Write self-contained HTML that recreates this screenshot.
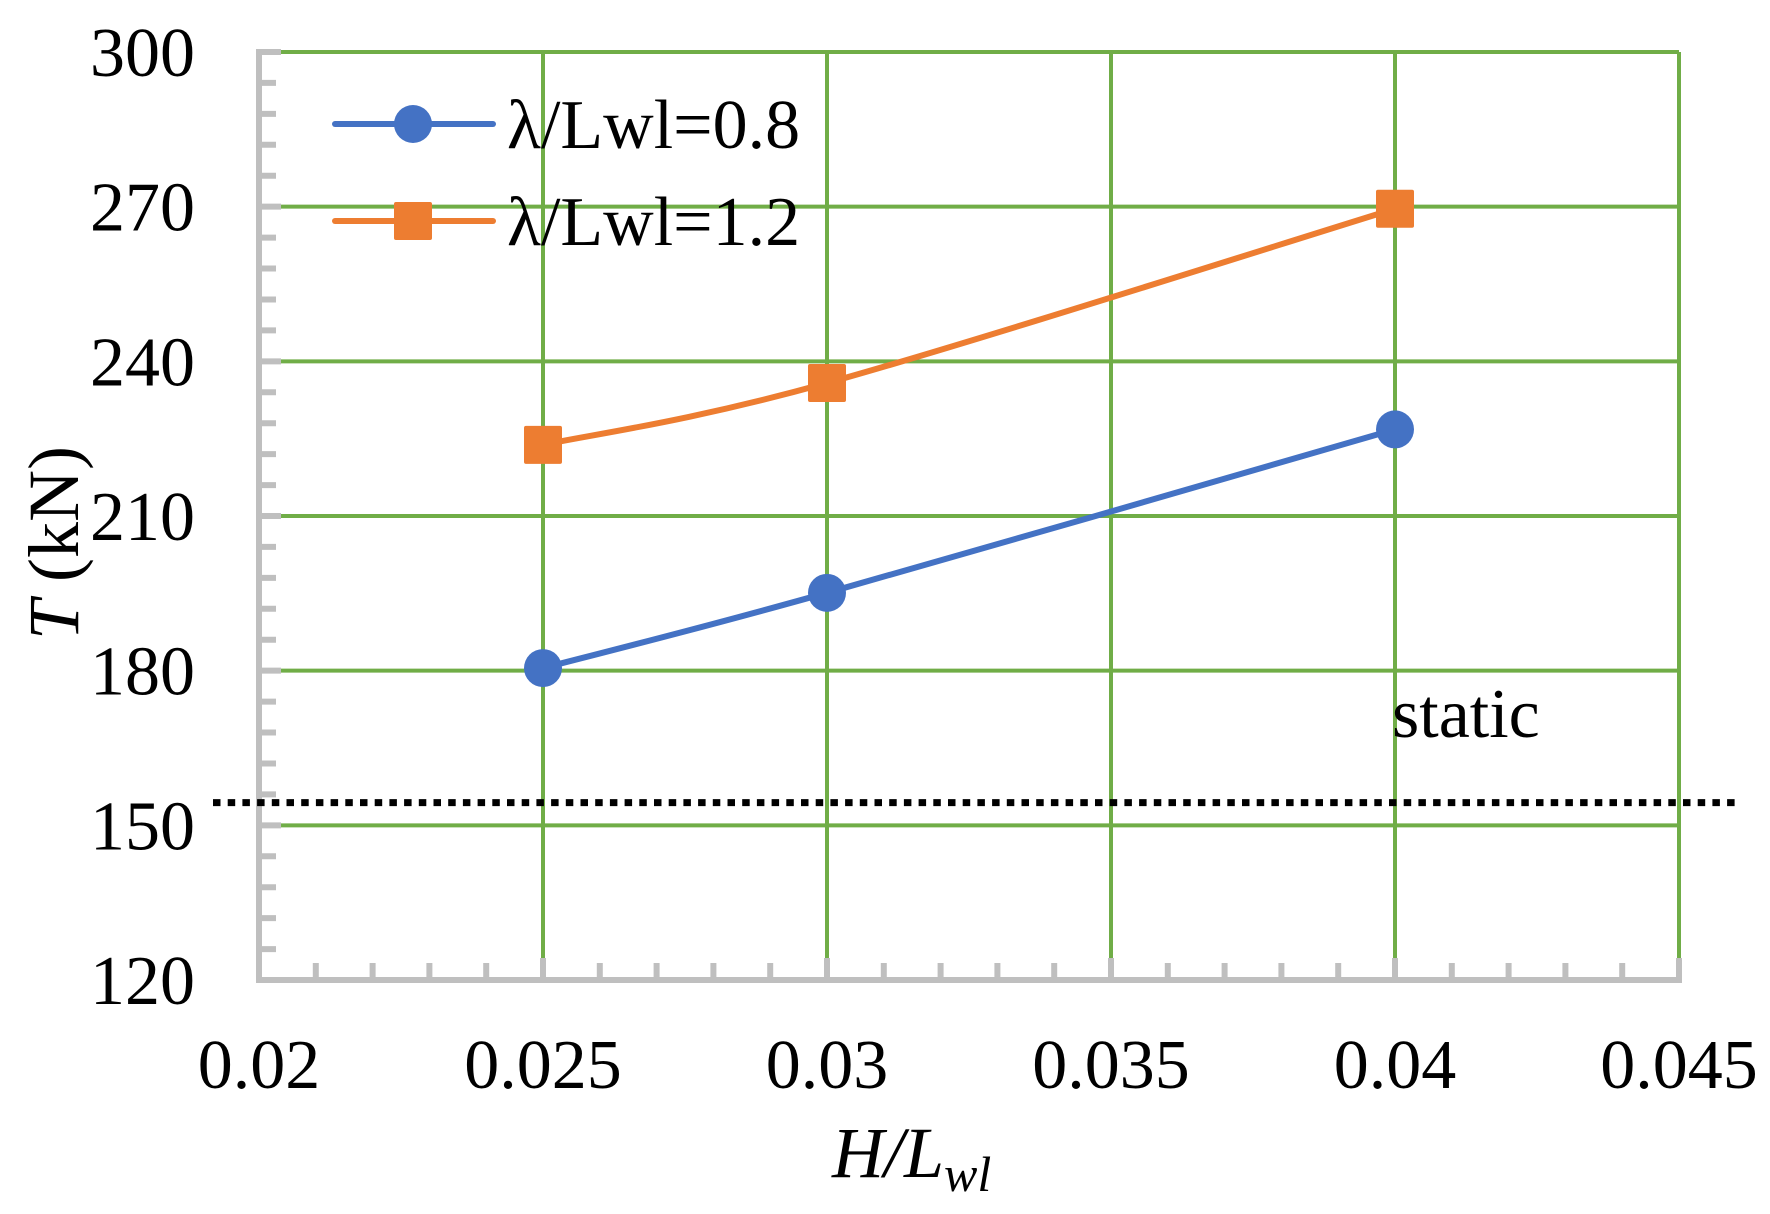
<!DOCTYPE html>
<html><head><meta charset="utf-8"><style>
html,body{margin:0;padding:0;background:#fff;}
svg{display:block;font-family:"Liberation Serif",serif;}
</style></head><body>
<svg id="chart" width="1770" height="1214" viewBox="0 0 1770 1214" xmlns="http://www.w3.org/2000/svg">
<g id="grid"></g>
<g id="axes"></g>
<g id="series"></g>
<g id="legend">
  <g>
    <line x1="335" y1="124" x2="493" y2="124" stroke="#4472c4" stroke-width="6" stroke-linecap="round"/>
    <circle cx="413" cy="124" r="19" fill="#4472c4"/>
    <text x="507" y="148" font-size="70">λ/Lwl=0.8</text>
  </g>
  <g>
    <line x1="335" y1="221" x2="493" y2="221" stroke="#ed7d31" stroke-width="6" stroke-linecap="round"/>
    <rect x="394" y="202" width="38" height="38" rx="2" fill="#ed7d31"/>
    <text x="507" y="245" font-size="70">λ/Lwl=1.2</text>
  </g>
</g>
<text x="1392" y="737" font-size="70">static</text>
<text x="832" y="1177" font-size="72" font-style="italic">H/L<tspan font-size="50" dy="14">wl</tspan></text>
<text transform="translate(78,543) rotate(-90)" text-anchor="middle" font-size="72"><tspan font-style="italic">T</tspan> (kN)</text>
</svg>
<script>
const xTicks=[0.02,0.025,0.03,0.035,0.04,0.045];
const xTickLabels=["0.02","0.025","0.03","0.035","0.04","0.045"];
const yTicks=[120,150,180,210,240,270,300];
const yTickLabels=["120","150","180","210","240","270","300"];
const categories=[0.025,0.03,0.04];
const seriesA=[180.5,195.1,226.8];
const seriesB=[223.8,235.8,269.6];
const staticValue=154.4;

const NS="http://www.w3.org/2000/svg";
const X0=259,X1=1679,Y0=980,Y1=52;
function xs(v){return X0+(v-0.02)/(0.045-0.02)*(X1-X0);}
function ys(v){return Y0-(v-120)/(300-120)*(Y0-Y1);}
function mk(tag,attrs,parent){const e=document.createElementNS(NS,tag);for(const k in attrs)e.setAttribute(k,attrs[k]);parent.appendChild(e);return e;}
const grid=document.getElementById('grid'),axes=document.getElementById('axes'),ser=document.getElementById('series');

yTicks.forEach((t,i)=>{
  if(t>120){const l=mk('line',{x1:X0,x2:X1,y1:ys(t),y2:ys(t),stroke:'#70ad47','stroke-width':4},grid);
  
  }
  const tx=mk('text',{x:195,y:ys(t)+24,'text-anchor':'end','font-size':70},axes);
  tx.textContent=yTickLabels[i];
  
  
});
xTicks.forEach((t,i)=>{
  if(t>0.02){const l=mk('line',{x1:xs(t),x2:xs(t),y1:Y1,y2:Y0,stroke:'#70ad47','stroke-width':4},grid);
  
  }
  const tx=mk('text',{x:xs(t),y:1088,'text-anchor':'middle','font-size':70},axes);
  tx.textContent=xTickLabels[i];
  
  
});
for(let v=120;v<=300;v+=6){const y=ys(v);const major=(v%30===0);
  mk('line',{x1:X0,x2:X0+(major?22:17),y1:y,y2:y,stroke:'#bfbfbf','stroke-width':6},axes);}
for(let k=0;k<=25;k++){const x=X0+k*(X1-X0)/25;const major=(k%5===0);
  mk('line',{x1:x,x2:x,y1:Y0,y2:Y0-(major?22:17),stroke:'#bfbfbf','stroke-width':6},axes);}
const ya=mk('line',{x1:X0,x2:X0,y1:Y1-3,y2:Y0+3,stroke:'#bfbfbf','stroke-width':6},axes);


const xa=mk('line',{x1:X0-3,x2:X1+3,y1:Y0,y2:Y0,stroke:'#bfbfbf','stroke-width':6},axes);



const sl=mk('line',{x1:213,x2:1736,y1:ys(staticValue),y2:ys(staticValue),stroke:'#000','stroke-width':7,'stroke-dasharray':'7.5 7.2'},ser);



function smooth(pts){let d=`M${pts[0][0]},${pts[0][1]}`;
  for(let i=0;i<pts.length-1;i++){const p0=pts[i-1]||pts[i],p1=pts[i],p2=pts[i+1],p3=pts[i+2]||p2;const t=0.17*3;
    const c1=[p1[0]+(p2[0]-p0[0])*t/3,p1[1]+(p2[1]-p0[1])*t/3],c2=[p2[0]-(p3[0]-p1[0])*t/3,p2[1]-(p3[1]-p1[1])*t/3];
    d+=` C${c1[0]},${c1[1]} ${c2[0]},${c2[1]} ${p2[0]},${p2[1]}`;}
  return d;}
function drawSeries(vals,color,shape,name){
  const pts=categories.map((c,i)=>[xs(c),ys(vals[i])]);
  const p=mk('path',{d:smooth(pts),fill:'none',stroke:color,'stroke-width':6},ser);
  
  
  pts.forEach(pt=>{let m;
    if(shape==='circle')m=mk('circle',{cx:pt[0],cy:pt[1],r:19,fill:color},ser);
    else m=mk('rect',{x:pt[0]-19,y:pt[1]-19,width:38,height:38,rx:2,fill:color},ser);
    
    });
}
drawSeries(seriesA,'#4472c4','circle','series-0.8');
drawSeries(seriesB,'#ed7d31','square','series-1.2');
</script>
</body></html>
